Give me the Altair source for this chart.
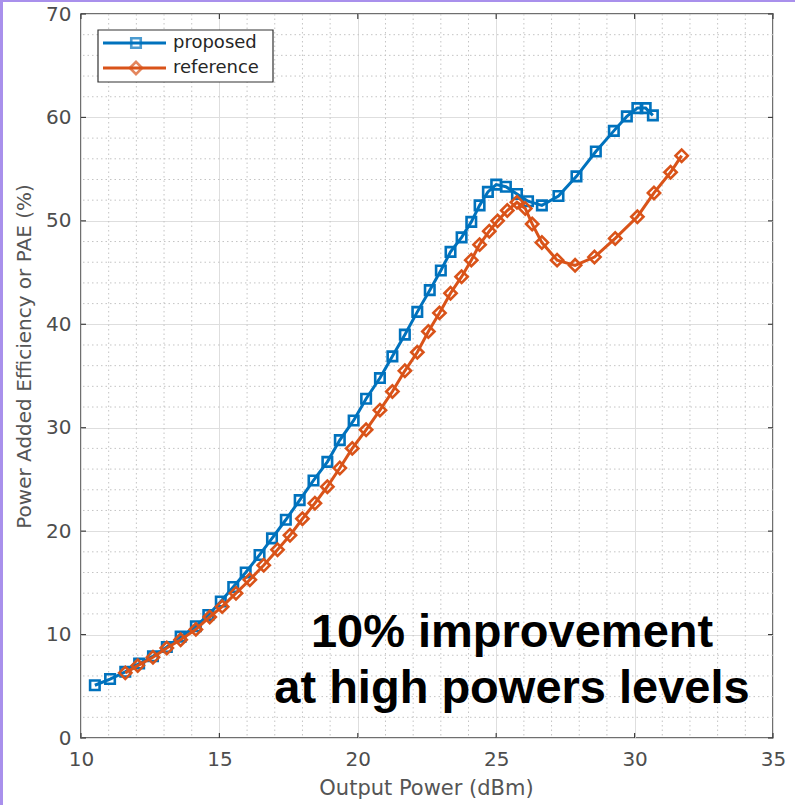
import altair as alt
import pandas as pd

# ---- data ----
proposed_x = [10.5, 11.05, 11.6, 12.1, 12.6, 13.1, 13.6, 14.15, 14.6, 15.05, 15.5, 15.95,
              16.45, 16.9, 17.4, 17.9, 18.4, 18.9, 19.35, 19.85, 20.3, 20.8, 21.25, 21.7,
              22.15, 22.6, 23.0, 23.35, 23.75, 24.1, 24.4, 24.7, 25.0, 25.35, 25.75, 26.15,
              26.65, 27.25, 27.9, 28.6, 29.25, 29.72, 30.1, 30.4, 30.66]
proposed_y = [5.1, 5.7, 6.4, 7.2, 7.9, 8.8, 9.8, 10.8, 11.9, 13.2, 14.6, 16.0,
              17.7, 19.3, 21.1, 23.0, 24.9, 26.7, 28.8, 30.7, 32.8, 34.8, 36.9, 39.0,
              41.2, 43.3, 45.2, 47.0, 48.4, 49.9, 51.5, 52.8, 53.5, 53.3, 52.6, 51.9,
              51.5, 52.4, 54.3, 56.7, 58.7, 60.1, 60.9, 60.9, 60.2]

reference_x = [11.6, 12.05, 12.6, 13.1, 13.6, 14.15, 14.65, 15.1, 15.6, 16.1, 16.6, 17.1,
               17.55, 18.0, 18.45, 18.9, 19.35, 19.8, 20.3, 20.8, 21.25, 21.7, 22.15, 22.55,
               22.95, 23.35, 23.75, 24.1, 24.4, 24.75, 25.05, 25.4, 25.75, 26.05, 26.3, 26.65,
               27.2, 27.85, 28.55, 29.3, 30.1, 30.7, 31.3, 31.7]
reference_y = [6.3, 7.0, 7.8, 8.7, 9.5, 10.5, 11.7, 12.7, 14.0, 15.3, 16.7, 18.2,
               19.6, 21.2, 22.7, 24.3, 26.1, 28.0, 29.8, 31.7, 33.5, 35.5, 37.3, 39.3,
               41.1, 43.0, 44.6, 46.2, 47.7, 49.0, 50.0, 51.0, 51.8, 51.2, 49.7, 47.9,
               46.2, 45.7, 46.5, 48.3, 50.4, 52.7, 54.7, 56.3]

series_names = ["proposed", "reference"]
x_ticks = [10, 15, 20, 25, 30, 35]
y_ticks = [0, 10, 20, 30, 40, 50, 60, 70]
x_minor = [11, 12, 13, 14, 16, 17, 18, 19, 21, 22, 23, 24, 26, 27, 28, 29, 31, 32, 33, 34]
y_minor = [2, 4, 6, 8, 12, 14, 16, 18, 22, 24, 26, 28, 32, 34, 36, 38, 42, 44, 46, 48,
           52, 54, 56, 58, 62, 64, 66, 68]
note_lines = ["10% improvement", "at high powers levels"]

# ---- frames ----
df_p = pd.DataFrame({"x": proposed_x, "y": proposed_y})
df_r = pd.DataFrame({"x": reference_x, "y": reference_y})
df_xt = pd.DataFrame({"v": x_ticks})
df_yt = pd.DataFrame({"v": y_ticks})
df_xm = pd.DataFrame({"v": x_minor})
df_ym = pd.DataFrame({"v": y_minor})
one = pd.DataFrame({"a": [0]})

W, H = 692, 724
BLUE = "#0072BD"
ORANGE = "#D95319"
FONT = "DejaVu Sans"

xs = alt.Scale(domain=[10, 35], nice=False, zero=False)
ys = alt.Scale(domain=[0, 70], nice=False, zero=False)

x_axis = alt.Axis(values=x_ticks, grid=True, gridColor="#dedede", gridWidth=1,
                  ticks=False, domain=False, labelPadding=11, labelFontSize=20,
                  labelFlush=False, labelOverlap=False,
                  labelColor="#4d4d4d", labelFont=FONT, title="Output Power (dBm)",
                  titleFont=FONT, titleFontSize=21, titleFontWeight="normal",
                  titleColor="#555555", titleX=345, titleY=50, titleBaseline="middle",
                  titleAlign="center")
y_axis = alt.Axis(values=y_ticks, grid=True, gridColor="#dedede", gridWidth=1,
                  ticks=False, domain=False, labelPadding=10, labelFontSize=20,
                  labelFlush=False, labelOverlap=False,
                  labelColor="#4d4d4d", labelFont=FONT,
                  title="Power Added Efficiency or PAE (%)", titleFont=FONT,
                  titleFontSize=20, titleFontWeight="normal", titleColor="#555555",
                  titleX=-57, titleY=342, titleAngle=270, titleBaseline="middle",
                  titleAlign="center")

DOT = dict(color="#c4c4c4", strokeWidth=1, strokeDash=[1.5, 3])
minor_x = alt.Chart(df_xm).mark_rule(**DOT).encode(
    x=alt.X("v:Q", scale=xs, axis=x_axis))
minor_y = alt.Chart(df_ym).mark_rule(**DOT).encode(
    y=alt.Y("v:Q", scale=ys, axis=y_axis))

line_p = alt.Chart(df_p).mark_line(
    color=BLUE, strokeWidth=3,
    point=alt.OverlayMarkDef(shape="square", filled=False, size=90, strokeWidth=2.6, color=BLUE)
).encode(x=alt.X("x:Q", scale=xs, axis=x_axis), y=alt.Y("y:Q", scale=ys, axis=y_axis))

line_r = alt.Chart(df_r).mark_line(
    color=ORANGE, strokeWidth=3,
    point=alt.OverlayMarkDef(shape="diamond", filled=False, size=150, strokeWidth=2.6, color=ORANGE)
).encode(x=alt.X("x:Q", scale=xs, axis=x_axis), y=alt.Y("y:Q", scale=ys, axis=y_axis))

TICK = "#404040"
tick_b = alt.Chart(df_xt).mark_rule(color=TICK, strokeWidth=1.2).encode(
    x=alt.X("v:Q", scale=xs, axis=x_axis), y=alt.value(H), y2=alt.value(H - 5))
tick_t = alt.Chart(df_xt).mark_rule(color=TICK, strokeWidth=1.2).encode(
    x=alt.X("v:Q", scale=xs, axis=x_axis), y=alt.value(0), y2=alt.value(5))
tick_l = alt.Chart(df_yt).mark_rule(color=TICK, strokeWidth=1.2).encode(
    y=alt.Y("v:Q", scale=ys, axis=y_axis), x=alt.value(0), x2=alt.value(5))
tick_r = alt.Chart(df_yt).mark_rule(color=TICK, strokeWidth=1.2).encode(
    y=alt.Y("v:Q", scale=ys, axis=y_axis), x=alt.value(W), x2=alt.value(W - 5))

note = alt.Chart(one).mark_text(
    font="Liberation Sans", fontWeight="bold", fontSize=47, color="black",
    align="center", baseline="alphabetic", lineHeight=56
).encode(x=alt.value(431), y=alt.value(633), text=alt.value(note_lines))

# legend (drawn as decoration inside the axes)
leg_box = alt.Chart(one).mark_rect(fill="white", stroke="#333333", strokeWidth=1.2).encode(
    x=alt.value(17), x2=alt.value(192), y=alt.value(16), y2=alt.value(68))
leg_l1 = alt.Chart(one).mark_rule(color=BLUE, strokeWidth=3).encode(
    x=alt.value(22), x2=alt.value(85), y=alt.value(29))
leg_l2 = alt.Chart(one).mark_rule(color=ORANGE, strokeWidth=3).encode(
    x=alt.value(22), x2=alt.value(85), y=alt.value(54))
leg_p1 = alt.Chart(one).mark_point(shape="square", filled=False, size=90, strokeWidth=2.6,
                                   color=BLUE).encode(x=alt.value(55), y=alt.value(29))
leg_p2 = alt.Chart(one).mark_point(shape="diamond", filled=False, size=150, strokeWidth=2.6,
                                   color=ORANGE).encode(x=alt.value(55), y=alt.value(54))
leg_t1 = alt.Chart(one).mark_text(font=FONT, fontSize=18, color="#262626", align="left",
                                  baseline="middle").encode(
    x=alt.value(92), y=alt.value(29), text=alt.value(series_names[0]))
leg_t2 = alt.Chart(one).mark_text(font=FONT, fontSize=18, color="#262626", align="left",
                                  baseline="middle").encode(
    x=alt.value(92), y=alt.value(54), text=alt.value(series_names[1]))

# slide border (light purple edge of the picture)
edge_l = alt.Chart(one).mark_rect(fill="#a990ec").encode(
    x=alt.value(-81), x2=alt.value(-78), y=alt.value(-14), y2=alt.value(791))
edge_t = alt.Chart(one).mark_rect(fill="#a990ec").encode(
    x=alt.value(-81), x2=alt.value(714), y=alt.value(-14), y2=alt.value(-12))

chart = alt.layer(
    minor_x, minor_y, line_p, line_r, tick_b, tick_t, tick_l, tick_r, note,
    leg_box, leg_l1, leg_l2, leg_p1, leg_p2, leg_t1, leg_t2, edge_l, edge_t
).properties(
    width=W, height=H, autosize="none",
    padding={"left": 81, "top": 14, "right": 22, "bottom": 67},
    background="white"
).configure_view(stroke="#404040", strokeWidth=1.5)

chart.save("out.html", embed_options={"renderer": "svg", "actions": False})
